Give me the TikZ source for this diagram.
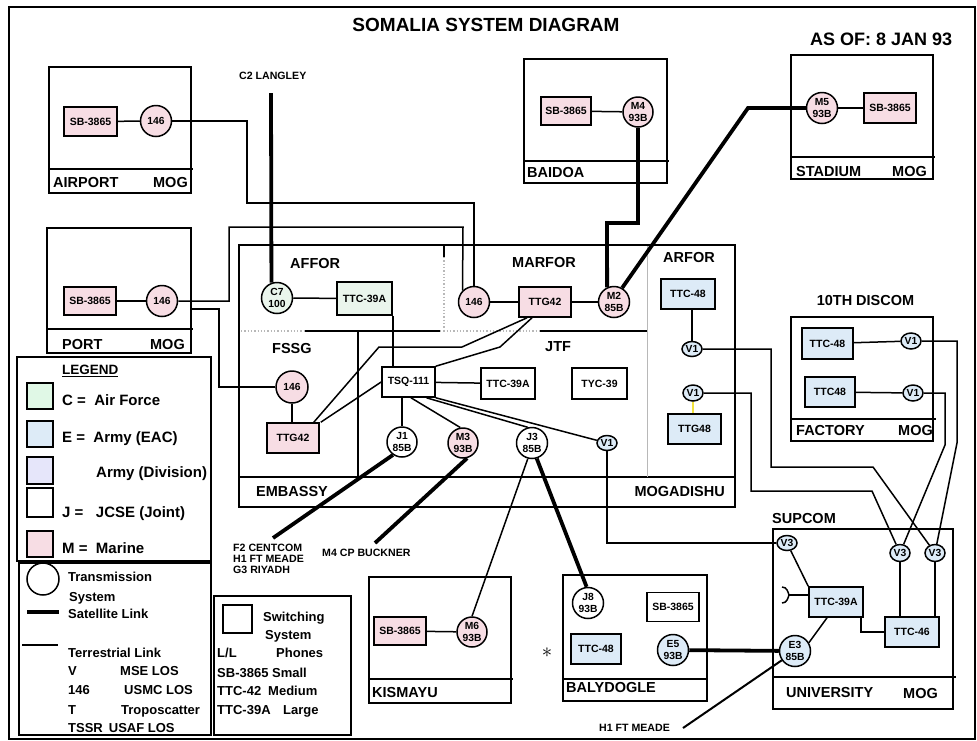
\documentclass[tikz,border=0pt]{standalone}
\usepackage{fontspec}
\setmainfont{Liberation Sans}
\usetikzlibrary{shapes.geometric}

\definecolor{mpink}{HTML}{F7DDE4}
\definecolor{mgreen}{HTML}{EAF5EC}
\definecolor{lgreen}{HTML}{E0F8E6}
\definecolor{mblue}{HTML}{DDEBF7}
\definecolor{mlav}{HTML}{E6E6FA}
\definecolor{myellow}{HTML}{F2E23C}
\definecolor{sepgray}{HTML}{B8B8B8}

\newcommand\txtsize[2]{\fontsize{#1}{#2}\selectfont}

\tikzset{
  link/.style={line width=1.5pt},
  sat/.style={line width=3.8pt},
  site/.style={draw, line width=1.8pt},
  sepline/.style={sepgray, line width=1.3pt, dotted},
  sw/.style={draw, rectangle, line width=1.6pt, inner sep=0pt,
             font=\bfseries\txtsize{10.5}{12}},
  tx/.style={draw, circle, line width=1.5pt, inner sep=0pt, minimum size=31pt,
             align=center, font=\bfseries\txtsize{10.3}{12.3}},
  vx/.style={draw, ellipse, line width=1.5pt, inner sep=0pt, minimum width=20pt,
             minimum height=16pt, fill=mblue, font=\bfseries\txtsize{10.3}{10}},
  lbl/.style={font=\bfseries\txtsize{14.5}{16}, inner sep=0pt, text height=10.4pt, text depth=0pt},
  legbig/.style={font=\bfseries\txtsize{15}{16}, inner sep=0pt, text height=10.7pt, text depth=0pt, anchor=west},
  legsm/.style={font=\bfseries\txtsize{13}{14}, inner sep=0pt, text height=9.3pt, text depth=0pt, anchor=west},
  note/.style={font=\bfseries\txtsize{10.6}{11}, inner sep=0pt, anchor=west},
  swatch/.style={draw, line width=1.8pt},
}

\begin{document}
\begin{tikzpicture}[x=1pt,y=-1pt]
\useasboundingbox (0,0) rectangle (977,740);
\fill[white] (0,0) rectangle (977,740);
\draw[line width=2.2pt] (9,7) rectangle (975,739);

% headings
\node[font=\bfseries\txtsize{19}{20}, inner sep=0pt] (title) at (486,25) {SOMALIA SYSTEM DIAGRAM};
\node[font=\bfseries\txtsize{18}{18}, inner sep=0pt, anchor=west] (asof) at (810,39) {AS OF: 8 JAN 93};

% ---------------- AIRPORT ----------------
\draw[site] (49,67) rectangle (191,193);
\draw[site] (49,169) -- (193,169);
\node[lbl,anchor=west] (apname) at (53,182) {AIRPORT};
\node[lbl,anchor=east] (apmog) at (188,182) {MOG};
\node[sw,fill=mpink,minimum width=53pt,minimum height=29pt] (apSB) at (90.5,121.5) {SB-3865};
\node[tx,fill=mpink] (ap146) at (156,121) {146};
\draw[link] (apSB) -- (ap146);

% ---------------- PORT ----------------
\draw[site] (47,228) rectangle (191,353);
\draw[site] (47,329) -- (193,329);
\node[lbl,anchor=west] (ptname) at (62,344) {PORT};
\node[lbl,anchor=east] (ptmog) at (185,344) {MOG};
\node[sw,fill=mpink,minimum width=52pt,minimum height=28pt] (ptSB) at (90,301) {SB-3865};
\node[tx,fill=mpink] (pt146) at (162,301) {146};
\draw[link] (ptSB) -- (pt146);
\coordinate (ptedge) at (191,309);

% ---------------- BAIDOA ----------------
\draw[site] (524,59) rectangle (667,183);
\draw[site] (524,161) -- (669,161);
\node[lbl,anchor=west] (bdname) at (527,172) {BAIDOA};
\node[sw,fill=mpink,minimum width=50pt,minimum height=28pt] (bdSB) at (566,111) {SB-3865};
\node[tx,fill=mpink,minimum size=30pt] (M4) at (638,112) {M4\\93B};
\draw[link] (bdSB) -- (M4);

% ---------------- STADIUM ----------------
\draw[site] (791,55) rectangle (933,179);
\draw[site] (791,157) -- (935,157);
\node[lbl,anchor=west] (stname) at (796,171) {STADIUM};
\node[lbl,anchor=east] (stmog) at (927,171) {MOG};
\node[tx,fill=mpink] (M5) at (822,108) {M5\\93B};
\node[sw,fill=mpink,minimum width=52pt,minimum height=30pt] (stSB) at (890,108) {SB-3865};
\draw[link] (M5) -- (stSB);

% ---------------- 10TH DISCOM / FACTORY ----------------
\node[lbl] (discom) at (865.5,300) {10TH DISCOM};
\draw[site] (791,317) rectangle (933,441);
\draw[site] (791,419) -- (936,419);
\node[lbl,anchor=west] (fcname) at (796,430) {FACTORY};
\node[lbl,anchor=east] (fcmog) at (933,430) {MOG};
\node[sw,fill=mblue,minimum width=51pt,minimum height=31pt] (fTTCa) at (827.5,343.5) {TTC-48};
\node[sw,fill=mblue,minimum width=50pt,minimum height=30pt] (fTTCb) at (830,392) {TTC48};
\node[vx] (fV1a) at (911,341) {V1};
\node[vx] (fV1b) at (913,393) {V1};
\draw[link] (fTTCa) -- (fV1a);
\draw[link] (fTTCb) -- (fV1b);

% ---------------- MOGADISHU ----------------
\draw[site] (239,245) rectangle (735,507);
\draw[site] (239,477) -- (735,477);
\node[lbl,anchor=west] (embname) at (256,491) {EMBASSY};
\node[lbl,anchor=east] (mogname) at (725,491) {MOGADISHU};
% section dividers
\draw[sepline] (241,331) -- (305,331);
\draw[link] (305,331) -- (440,331);
\draw[sepline] (440,331) -- (540,331);
\draw[link] (540,331) -- (647,331);
\draw[link] (444,246) -- (444,257);
\draw[sepline] (444,257) -- (444,331);
\draw[sepgray, line width=1pt] (647,246) -- (647,477);
\draw[link] (358,331) -- (358,477);
\node[lbl,anchor=west] (affor) at (290,263) {AFFOR};
\node[lbl,anchor=west] (fssg) at (272,348) {FSSG};
\node[lbl,anchor=west] (marfor) at (512,262) {MARFOR};
\node[lbl,anchor=west] (jtf) at (545,346) {JTF};
\node[lbl,anchor=west] (arfor) at (663,257) {ARFOR};

\node[tx,fill=mgreen] (C7) at (277,298) {C7\\100};
\node[sw,fill=mgreen,minimum width=55pt,minimum height=33pt] (affTTC) at (364.5,298.5) {TTC-39A};
\node[tx,fill=mpink] (mar146) at (474,302) {146};
\node[sw,fill=mpink,minimum width=52pt,minimum height=30pt] (marTTG) at (545,302) {TTG42};
\node[tx,fill=mpink] (M2) at (614,302) {M2\\85B};
\node[tx,fill=mpink,minimum size=32pt] (fsg146) at (292,387) {146};
\node[sw,fill=mpink,minimum width=52pt,minimum height=30pt] (fsgTTG) at (293,438) {TTG42};
\node[sw,fill=white,minimum width=53pt,minimum height=30pt] (TSQ) at (408.5,382) {TSQ-111};
\node[sw,fill=white,minimum width=54pt,minimum height=31pt] (jtfTTC) at (508,383.5) {TTC-39A};
\node[sw,fill=white,minimum width=55pt,minimum height=31pt] (TYC) at (599.5,383.5) {TYC-39};
\node[tx,fill=white,minimum size=30pt] (J1) at (402,442) {J1\\85B};
\node[tx,fill=mpink,minimum size=30pt] (M3) at (463,443) {M3\\93B};
\node[tx,fill=white] (J3) at (532,443) {J3\\85B};
\node[vx,minimum height=15pt] (jV1) at (607,443) {V1};
\node[sw,fill=mblue,minimum width=54pt,minimum height=30pt] (arTTC) at (688,294) {TTC-48};
\node[vx,minimum height=15pt] (arV1a) at (692,349) {V1};
\node[vx] (arV1b) at (693,393) {V1};
\node[sw,fill=mblue,minimum width=53pt,minimum height=30pt] (arTTG) at (694.5,429) {TTG48};

% ---------------- KISMAYU ----------------
\draw[site] (369,577) rectangle (511,703);
\draw[site] (369,679) -- (513,679);
\node[lbl,anchor=west] (kname) at (372,692) {KISMAYU};
\node[sw,fill=mpink,minimum width=52pt,minimum height=28pt] (kSB) at (400,631) {SB-3865};
\node[tx,fill=mpink,minimum size=30pt] (M6) at (472,632) {M6\\93B};
\draw[link] (kSB) -- (M6);

% ---------------- BALYDOGLE ----------------
\draw[site] (563,575) rectangle (707,701);
\draw[site] (563,679) -- (707,679);
\node[lbl,anchor=west] (bname) at (566,687) {BALYDOGLE};
\node[tx,fill=white] (J8) at (588,603) {J8\\93B};
\node[sw,fill=white,minimum width=52pt,minimum height=29pt] (bSB) at (673,607) {SB-3865};
\node[sw,fill=mblue,minimum width=50pt,minimum height=30pt] (bTTC) at (596,649) {TTC-48};
\node[tx,fill=mblue] (E5) at (673,650) {E5\\93B};
\node[inner sep=0pt,font=\txtsize{20}{20}] (star) at (547,653) {$\ast$};

% ---------------- SUPCOM / UNIVERSITY ----------------
\node[lbl,anchor=west] (supcom) at (772,518) {SUPCOM};
\draw[site] (773,529) rectangle (953,709);
\draw[site] (773,677) -- (956,677);
\node[lbl,anchor=west] (uname) at (786,692) {UNIVERSITY};
\node[lbl,anchor=east] (umog) at (938,693) {MOG};
\node[vx,minimum height=15pt] (sV3a) at (787,543) {V3};
\node[vx,minimum height=17pt] (sV3b) at (900,553) {V3};
\node[vx,minimum height=17pt] (sV3c) at (935,553) {V3};
\node[sw,fill=mblue,minimum width=54pt,minimum height=30pt] (sTTC39) at (836,602) {TTC-39A};
\node[sw,fill=mblue,minimum width=54pt,minimum height=30pt] (sTTC46) at (912,632) {TTC-46};
\node[tx,fill=mblue] (E3) at (795,651) {E3\\85B};
\coordinate (brk) at (789,595);

% ---------------- free ends and their notes ----------------
\coordinate (langley) at (271,93);
\node[note] (c2) at (239,76) {C2 LANGLEY};
\coordinate (f2end) at (273,538);
\node[note,align=left] (f2txt) at (233,559) {F2 CENTCOM\\H1 FT MEADE\\G3 RIYADH};
\coordinate (bucknerend) at (375,543);
\node[note] (buckner) at (322,553) {M4 CP BUCKNER};
\coordinate (meadeend) at (683,728);
\node[note] (meade) at (599,728) {H1 FT MEADE};

% ---------------- connectors ----------------
% satellite links
\draw[sat] (langley) -- (C7.110);
\draw[sat] (M4.south) -- (638,223) -- (607,223) -- (M2.115);
\draw[sat] (M5.west) -- (748,108) -- (M2.60);
\draw[sat] (J1.235) -- (f2end);
\draw[sat] (M3.285) -- (bucknerend);
\draw[sat] (J3.287) -- (J8.95);
\draw[sat] (E5) -- (E3);

% terrestrial links
\draw[link] (ap146.east) -- (247,121) -- (247,203) -- (474,203) -- (mar146.north);
\draw[link] (pt146.east) -- (229,301) -- (229,227) -- (463,227) -- (mar146.135);
\draw[link] (ptedge) -- (219,309) -- (219,387) -- (fsg146.west);
\draw[link] (fsg146) -- (fsg146 |- fsgTTG.north);
\draw[link] (C7) -- (affTTC);
\draw[link] (affTTC.south east) -- (affTTC.south east |- TSQ.north);
\draw[link] (mar146) -- (marTTG);
\draw[link] (marTTG) -- (M2);
\draw[link] ([xshift=-18pt]marTTG.south) -- (462,347) -- (379,347) -- ([xshift=-6pt]fsgTTG.north east);
\draw[link] ([xshift=-13pt]marTTG.south) -- (500,347) -- (TSQ.north east);
\draw[link] (TSQ.west) -- ([xshift=1pt]fsgTTG.north east);
\draw[link] (TSQ) -- (jtfTTC);
\draw[link] (J1.north |- TSQ.south) -- (J1.north);
\draw[link] ([xshift=2.5pt]TSQ.south) -- (M3.100);
\draw[link] ([xshift=18pt]TSQ.south) -- (J3.105);
\draw[link] (TSQ.south east) -- (jV1);
\draw[link] (M6.north) -- (J3.255);
\draw[link] (arV1a.north |- arTTC.south) -- (arV1a.north);
\draw[myellow, line width=1.5pt] (arV1b.south) -- (arV1b.south |- arTTG.north);
\draw[link] (jV1.south) -- (jV1.south |- sV3a.west) -- (sV3a.west);
\draw[link] (arV1a.east) -- (771,349) -- (771,467) -- (873,467) -- (sV3c);
\draw[link] (arV1b.east) -- (751,393) -- (751,491) -- (872,491) -- (sV3b);
\draw[link] (fV1a.east) -- (957,341) -- (957,443) -- (sV3c);
\draw[link] (fV1b.east) -- (945,393) -- (945,445) -- (sV3b);
\draw[link] (sV3b.south) -- (sV3b.south |- sTTC46.north);
\draw[link] (sV3c.south) -- (sV3c.south |- sTTC46.north);
\draw[link] (sV3a) -- (sTTC39.north west);
\draw[link] ([xshift=-3pt]sTTC39.south east) |- (sTTC46.west);
\draw[link] (E3.31) -- ([xshift=-9pt]sTTC39.south);
\draw[line width=2pt] (E3.215) -- (meadeend);
\draw[link] ([yshift=7pt]sTTC39.west) -- (brk);
\draw[link] (782,587) .. controls (787,587) and (788,592) .. (brk)
            .. controls (788,598) and (787,603) .. (782,603);

% ---------------- LEGEND ----------------
\draw[site] (17,357) rectangle (211,561);
\node[legsm,font=\bfseries\txtsize{13.5}{14}] (legtitle) at (62,370) {\underline{LEGEND}};
\draw[swatch,fill=lgreen] (27,383) rectangle (53,409);
\node[legbig] (legC) at (62,400) {C =\ \ Air Force};
\draw[swatch,fill=mblue] (27,421) rectangle (53,447);
\node[legbig] (legE) at (62,437) {E =\ \ Army (EAC)};
\draw[swatch,fill=mlav] (27,457) rectangle (53,484);
\node[legbig] (legD) at (96,472) {Army (Division)};
\draw[swatch,fill=white] (27,488) rectangle (53,517);
\node[legbig] (legJ) at (62,512) {J =\ \ \ JCSE (Joint)};
\draw[swatch,fill=mpink] (27,531) rectangle (53,557);
\node[legbig] (legM) at (62,548) {M =\ \ Marine};

\draw[site] (19,563) rectangle (211,735);
\draw[line width=1.5pt] (43,579) circle (16);
\node[legsm] (lgT1) at (68,577) {Transmission};
\node[legsm] (lgT2) at (69,597) {System};
\draw[sat] (27,612) -- (59,612);
\node[legsm] (lgSat) at (68,614) {Satellite Link};
\draw[link] (22,645) -- (58,645);
\node[legsm] (lgTer) at (68,653) {Terrestrial Link};
\node[legsm] (lgV) at (68,671) {V};
\node[legsm] (lgVd) at (120,671) {MSE LOS};
\node[legsm] (lg146) at (68,690) {146};
\node[legsm] (lg146d) at (124,690) {USMC LOS};
\node[legsm] (lgTT) at (68,710) {T};
\node[legsm] (lgTTd) at (121,710) {Troposcatter};
\node[legsm] (lgTS) at (68,728) {TSSR\hspace{6pt}USAF LOS};

\draw[site] (214,596) rectangle (351,735);
\draw[line width=1.6pt] (223,605) rectangle (252,633);
\node[legsm] (lgS1) at (263,617) {Switching};
\node[legsm] (lgS2) at (265,635) {System};
\node[legsm] (lgLL) at (217,653) {L/L};
\node[legsm] (lgLLd) at (276,653) {Phones};
\node[legsm] (lgSB) at (217,673) {SB-3865 Small};
\node[legsm] (lgTTC) at (217,691) {TTC-42};
\node[legsm] (lgTTCd) at (268,691) {Medium};
\node[legsm] (lgTTCL) at (217,710) {TTC-39A};
\node[legsm] (lgTTCLd) at (283,710) {Large};
\end{tikzpicture}
\end{document}
